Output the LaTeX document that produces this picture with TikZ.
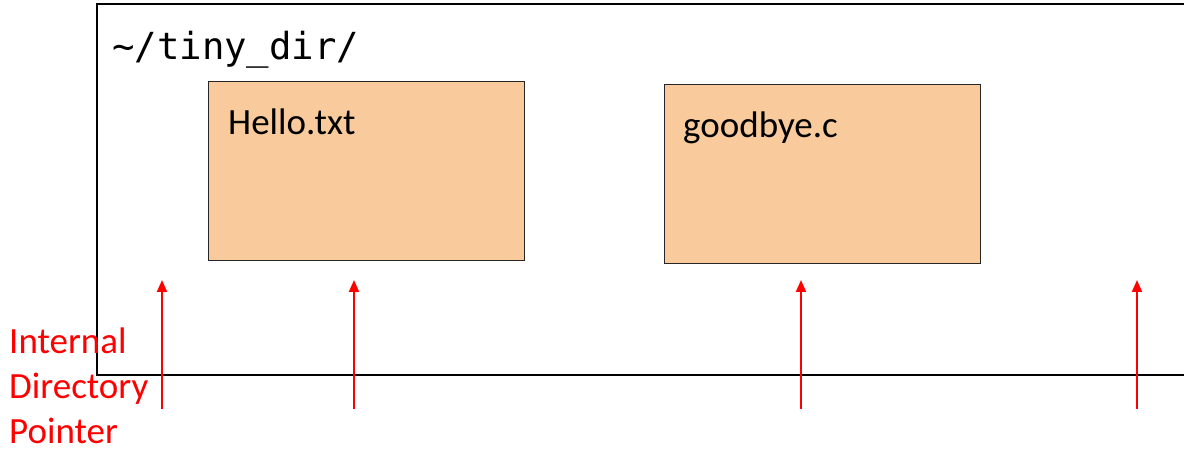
\documentclass[tikz,border=0pt]{standalone}
\usepackage{fontspec}
\setmainfont{Carlito}
\newfontfamily\monofnt{DejaVu Sans Mono}
\usetikzlibrary{arrows.meta}
\definecolor{filefill}{HTML}{F8CA9C}
\tikzset{
  filebox/.style={draw=black!85, line width=1.4pt, fill=filefill, minimum width=316pt, minimum height=179pt, inner sep=0pt, anchor=north west},
  dirbox/.style={draw=black, line width=1.8pt},
  ptr/.style={draw=red, line width=2pt, -{Triangle[length=12pt,width=10pt]}},
  lbl/.style={anchor=base west, inner sep=0pt, font=\fontsize{37}{44}\selectfont},
  redlbl/.style={anchor=base west, inner sep=0pt, text=red, font=\fontsize{37}{44}\selectfont}
}
\begin{document}
\begin{tikzpicture}[x=1pt,y=1pt]
\useasboundingbox (0,0) rectangle (1184,449);
\fill[white] (0,0) rectangle (1184,449);
% directory outline (right edge outside the picture)
\draw[dirbox] (1190,445) -- (97,445) -- (97,74) -- (1190,74);
\node[anchor=base west, inner sep=0pt, font=\monofnt\fontsize{37.3}{44}\selectfont] (dirname) at (112,389) {\textasciitilde/tiny\_dir/};
% files
\node[filebox] (hello) at (208,368) {};
\node[filebox] (goodbye) at (664,365) {};
\node[lbl] (hellolbl) at (228,314) {Hello.txt};
\node[lbl] (goodbyelbl) at (683,311) {goodbye.c};
% pointer label
\node[redlbl] (l1) at (9,95) {Internal};
\node[redlbl] (l2) at (9,50) {Directory};
\node[redlbl] (l3) at (9,5) {Pointer};
% pointers
\coordinate (p1s) at (162,40); \coordinate (p1e) at (162,169);
\coordinate (p2s) at (354,40); \coordinate (p2e) at (354,169);
\coordinate (p3s) at (801,40); \coordinate (p3e) at (801,169);
\coordinate (p4s) at (1137,40); \coordinate (p4e) at (1137,169);
\draw[ptr] (p1s) -- (p1e);
\draw[ptr] (p2s) -- (p2e);
\draw[ptr] (p3s) -- (p3e);
\draw[ptr] (p4s) -- (p4e);
\end{tikzpicture}
\end{document}
